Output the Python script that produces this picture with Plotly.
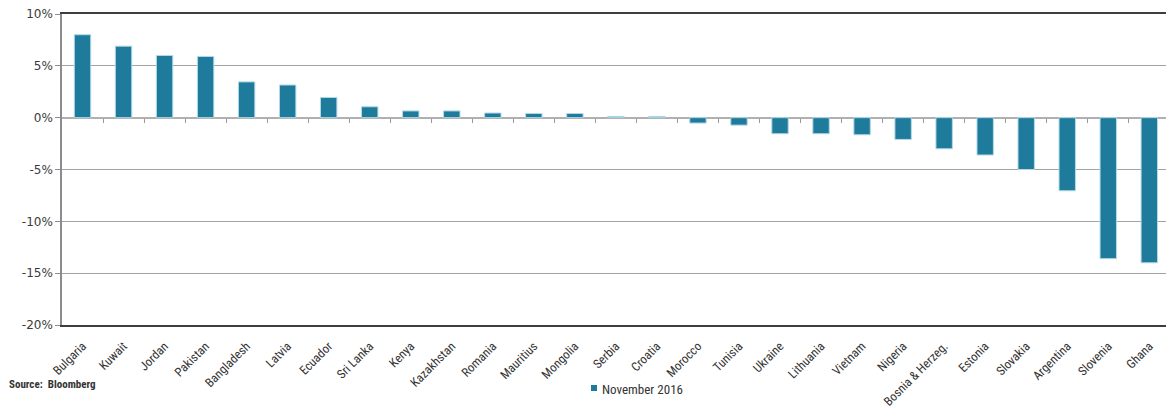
import plotly.graph_objects as go

# Currency / market change by country, November 2016 (%)
countries = [
    "Bulgaria", "Kuwait", "Jordan", "Pakistan", "Bangladesh", "Latvia", "Ecuador",
    "Sri Lanka", "Kenya", "Kazakhstan", "Romania", "Mauritius", "Mongolia", "Serbia",
    "Croatia", "Morocco", "Tunisia", "Ukraine", "Lithuania", "Vietnam", "Nigeria",
    "Bosnia & Herzeg.", "Estonia", "Slovakia", "Argentina", "Slovenia", "Ghana",
]
nov_2016 = [
    8.0, 6.9, 6.0, 5.9, 3.45, 3.15, 1.95,
    1.05, 0.65, 0.65, 0.45, 0.4, 0.4, 0.12,
    0.12, -0.52, -0.72, -1.55, -1.55, -1.65, -2.1,
    -3.0, -3.6, -5.0, -7.05, -13.6, -14.0,
]
y_ticks = [10, 5, 0, -5, -10, -15, -20]
y_tick_labels = ["10%", "5%", "0%", "-5%", "-10%", "-15%", "-20%"]
series_name = "November 2016"
source_text = "Source:  Bloomberg"

W, H = 1166, 410
L, R, T, B = 62, 0, 14, 85
PW, PH = W - L - R, H - T - B
slot = 41.03  # pixel width of one category slot
x_hi = PW / slot - 0.5
y_lo, y_hi = -20, 10

bar_color = "#1f7b9b"
label_font = "Liberation Sans Narrow, Arial Narrow, Roboto Condensed, sans-serif"


def px_x(px):
    return (px - L) / PW


def px_y(py):
    return (H - B - py) / PH


fig = go.Figure()
fig.add_trace(go.Bar(
    x=countries,
    y=nov_2016,
    name=series_name,
    width=0.4,
    showlegend=False,
    marker=dict(color=bar_color, line=dict(color="#b3d9e6", width=1)),
))

# invisible trace so the overlay axis is drawn
fig.add_trace(go.Scatter(x=[0], y=[0], xaxis="x2", mode="markers",
                         marker=dict(opacity=0), showlegend=False, hoverinfo="skip"))

fig.update_layout(
    width=W, height=H,
    margin=dict(l=L, r=R, t=T, b=B),
    paper_bgcolor="white",
    plot_bgcolor="white",
    showlegend=False,
    bargap=0.6,
    xaxis=dict(
        type="category",
        categoryorder="array",
        categoryarray=countries,
        range=[-0.5, x_hi],
        tickangle=-45,
        # invisible ticks just to push the labels a little below the frame
        ticks="outside", ticklen=7, tickcolor="rgba(0,0,0,0)",
        showline=True, mirror=True,
        linecolor="#3d3d3d", linewidth=2,
        showgrid=False,
        tickfont=dict(family=label_font, size=12.5, color="#333333"),
        automargin=False,
    ),
    # boundary tick marks sitting on the 0% line
    xaxis2=dict(
        overlaying="x",
        anchor="free",
        position=(0 - y_lo) / (y_hi - y_lo),
        range=[-0.5, x_hi],
        tickvals=[i + 0.5 for i in range(len(countries) - 1)],
        ticks="outside", ticklen=4, tickwidth=1, tickcolor="#999999",
        showticklabels=False,
        showline=False, showgrid=False, zeroline=False,
    ),
    yaxis=dict(
        range=[y_lo, y_hi],
        tickvals=y_ticks,
        ticktext=y_tick_labels,
        ticks="outside", ticklen=5, tickcolor="#8c8c8c",
        showline=True, linecolor="#8c8c8c", linewidth=1.5,
        showgrid=True, gridcolor="#a3a3a3", gridwidth=1,
        zeroline=True, zerolinecolor="#b0b0b0", zerolinewidth=1.5,
        tickfont=dict(family="DejaVu Sans, Verdana, sans-serif", size=12, color="#3a3a3a"),
        automargin=False,
    ),
)

# legend: swatch + series name
fig.add_shape(
    type="rect", xref="paper", yref="paper",
    x0=px_x(591), x1=px_x(597), y0=px_y(391), y1=px_y(385),
    fillcolor=bar_color, line=dict(width=0),
)
fig.add_annotation(
    text=series_name,
    xref="paper", yref="paper",
    x=px_x(600), xanchor="left",
    y=px_y(389), yanchor="middle",
    showarrow=False,
    font=dict(family=label_font, size=13, color="#333333"),
)

fig.add_annotation(
    text="<b>" + source_text + "</b>",
    xref="paper", yref="paper",
    x=px_x(7), xanchor="left",
    y=px_y(384), yanchor="middle",
    showarrow=False,
    font=dict(family=label_font, size=11, color="#333333"),
)

fig.write_html("out.html")
